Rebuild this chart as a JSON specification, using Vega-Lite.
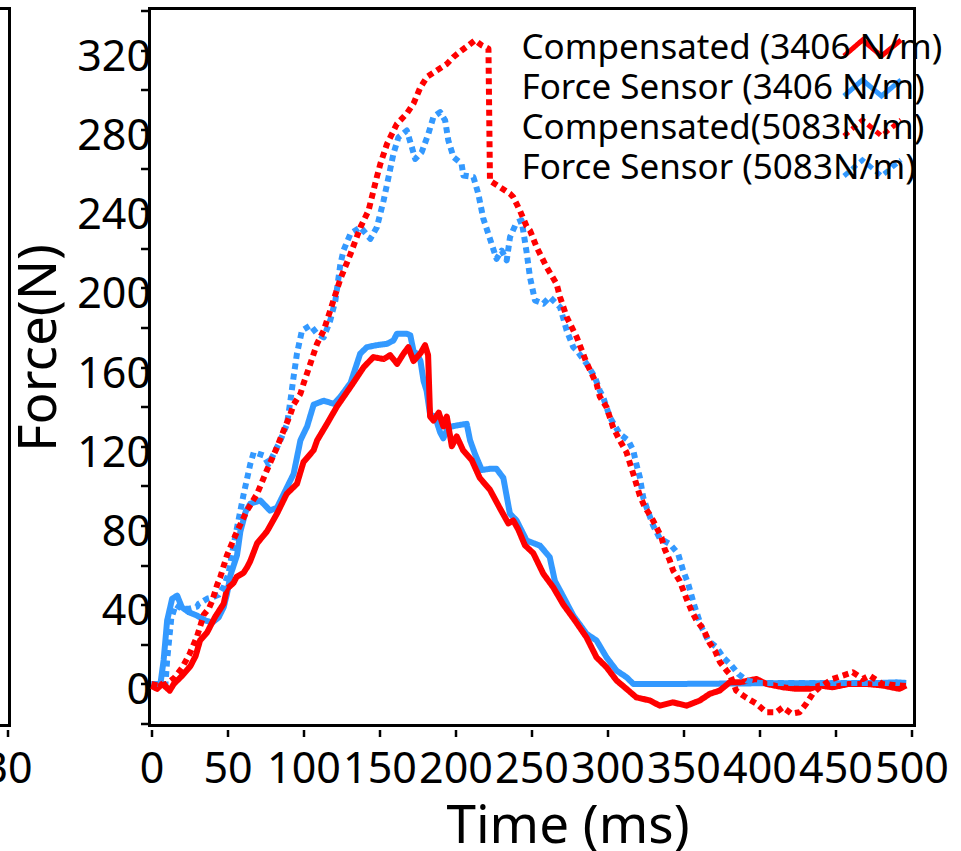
{
  "$schema": "https://vega.github.io/schema/vega-lite/v6.json",
  "autosize": {"type": "pad"},
  "padding": {"left": -32.5, "top": -5.5, "right": 0, "bottom": 0},
  "background": "white",
  "bounds": "flush",
  "spacing": 140,
  "config": {
    "font": "Noto Sans",
    "view": {"stroke": "black", "strokeWidth": 3},
    "axis": {"labelFont": "Noto Sans", "titleFont": "Noto Sans", "labelColor": "black", "titleColor": "black", "tickColor": "black", "grid": false, "domain": false, "titleFontWeight": "normal", "labelFontSize": 43, "labelBaseline": "alphabetic", "labelOverlap": false, "labelFlush": false, "tickSize": 7, "tickWidth": 2.5},
    "legend": {"title": null, "orient": "none", "legendX": 333, "legendY": 22, "labelFontSize": 35, "labelFont": "Noto Sans", "labelColor": "black", "labelLimit": 1000, "symbolType": "M34.4,0.8L36.25,-0.8L38.15,0.8L40.1,-0.8", "symbolSize": 400, "symbolStrokeWidth": 5, "rowPadding": 3}
  },
  "resolve": {"scale": {"x": "independent", "y": "independent", "color": "independent", "strokeDash": "independent"}, "legend": {"color": "independent", "strokeDash": "independent"}},
  "datasets": {
    "left": [{"t": 10, "F": 0}, {"t": 30, "F": 0}],
    "main": [
    {"s":"Force Sensor (3406 N/m)","t":0,"F":0},{"s":"Force Sensor (3406 N/m)","t":5.9,"F":0},{"s":"Force Sensor (3406 N/m)","t":8,"F":12},{"s":"Force Sensor (3406 N/m)","t":10.3,"F":32},{"s":"Force Sensor (3406 N/m)","t":13.6,"F":43},{"s":"Force Sensor (3406 N/m)","t":16.9,"F":44.6},{"s":"Force Sensor (3406 N/m)","t":20,"F":38.7},{"s":"Force Sensor (3406 N/m)","t":24.5,"F":36.2},{"s":"Force Sensor (3406 N/m)","t":30,"F":34.5},{"s":"Force Sensor (3406 N/m)","t":35.5,"F":32},{"s":"Force Sensor (3406 N/m)","t":40,"F":31},{"s":"Force Sensor (3406 N/m)","t":44.2,"F":33.6},{"s":"Force Sensor (3406 N/m)","t":47.5,"F":38.7},{"s":"Force Sensor (3406 N/m)","t":49.7,"F":45.5},{"s":"Force Sensor (3406 N/m)","t":52,"F":55},{"s":"Force Sensor (3406 N/m)","t":56.3,"F":65},{"s":"Force Sensor (3406 N/m)","t":58.5,"F":77},{"s":"Force Sensor (3406 N/m)","t":62,"F":87},{"s":"Force Sensor (3406 N/m)","t":65,"F":91},{"s":"Force Sensor (3406 N/m)","t":71.6,"F":92.6},{"s":"Force Sensor (3406 N/m)","t":78,"F":87.5},{"s":"Force Sensor (3406 N/m)","t":82.6,"F":89},{"s":"Force Sensor (3406 N/m)","t":89,"F":99},{"s":"Force Sensor (3406 N/m)","t":93.5,"F":106},{"s":"Force Sensor (3406 N/m)","t":98,"F":123},{"s":"Force Sensor (3406 N/m)","t":102.4,"F":130},{"s":"Force Sensor (3406 N/m)","t":106.7,"F":141},{"s":"Force Sensor (3406 N/m)","t":113.3,"F":143},{"s":"Force Sensor (3406 N/m)","t":120,"F":141.4},{"s":"Force Sensor (3406 N/m)","t":124,"F":144.7},{"s":"Force Sensor (3406 N/m)","t":131,"F":152},{"s":"Force Sensor (3406 N/m)","t":137.3,"F":166.7},{"s":"Force Sensor (3406 N/m)","t":141.7,"F":170},{"s":"Force Sensor (3406 N/m)","t":148,"F":171},{"s":"Force Sensor (3406 N/m)","t":154.9,"F":171.7},{"s":"Force Sensor (3406 N/m)","t":159.2,"F":173.4},{"s":"Force Sensor (3406 N/m)","t":161.5,"F":176.8},{"s":"Force Sensor (3406 N/m)","t":168,"F":176.8},{"s":"Force Sensor (3406 N/m)","t":170.3,"F":176},{"s":"Force Sensor (3406 N/m)","t":172.4,"F":168},{"s":"Force Sensor (3406 N/m)","t":174.6,"F":166.7},{"s":"Force Sensor (3406 N/m)","t":177,"F":163},{"s":"Force Sensor (3406 N/m)","t":179,"F":153},{"s":"Force Sensor (3406 N/m)","t":181,"F":148},{"s":"Force Sensor (3406 N/m)","t":183.3,"F":136},{"s":"Force Sensor (3406 N/m)","t":186.6,"F":135},{"s":"Force Sensor (3406 N/m)","t":189.9,"F":127},{"s":"Force Sensor (3406 N/m)","t":192,"F":124},{"s":"Force Sensor (3406 N/m)","t":195.3,"F":129.6},{"s":"Force Sensor (3406 N/m)","t":200.8,"F":130.5},{"s":"Force Sensor (3406 N/m)","t":207.4,"F":131.3},{"s":"Force Sensor (3406 N/m)","t":209.6,"F":123},{"s":"Force Sensor (3406 N/m)","t":212.9,"F":116},{"s":"Force Sensor (3406 N/m)","t":217.3,"F":108},{"s":"Force Sensor (3406 N/m)","t":222.7,"F":108.6},{"s":"Force Sensor (3406 N/m)","t":227,"F":108.6},{"s":"Force Sensor (3406 N/m)","t":231.5,"F":104},{"s":"Force Sensor (3406 N/m)","t":235.8,"F":86},{"s":"Force Sensor (3406 N/m)","t":240.2,"F":82.5},{"s":"Force Sensor (3406 N/m)","t":246.8,"F":72.4},{"s":"Force Sensor (3406 N/m)","t":255.6,"F":69.8},{"s":"Force Sensor (3406 N/m)","t":262,"F":64},{"s":"Force Sensor (3406 N/m)","t":265.4,"F":52},{"s":"Force Sensor (3406 N/m)","t":271,"F":44},{"s":"Force Sensor (3406 N/m)","t":277.5,"F":34.5},{"s":"Force Sensor (3406 N/m)","t":286.2,"F":25.3},{"s":"Force Sensor (3406 N/m)","t":292.8,"F":21.9},{"s":"Force Sensor (3406 N/m)","t":299.4,"F":13.4},{"s":"Force Sensor (3406 N/m)","t":306,"F":6.7},{"s":"Force Sensor (3406 N/m)","t":312.5,"F":3.4},{"s":"Force Sensor (3406 N/m)","t":317,"F":0},{"s":"Force Sensor (3406 N/m)","t":350,"F":0},{"s":"Force Sensor (3406 N/m)","t":400,"F":0.3},{"s":"Force Sensor (3406 N/m)","t":450,"F":0.3},{"s":"Force Sensor (3406 N/m)","t":480,"F":0.5},{"s":"Force Sensor (3406 N/m)","t":490,"F":0.8},{"s":"Force Sensor (3406 N/m)","t":496.5,"F":0.5},

    {"s":"Compensated (3406 N/m)","t":0,"F":-1},{"s":"Compensated (3406 N/m)","t":3.7,"F":-2.5},{"s":"Compensated (3406 N/m)","t":7,"F":0},{"s":"Compensated (3406 N/m)","t":12,"F":-3.4},{"s":"Compensated (3406 N/m)","t":14.7,"F":0},{"s":"Compensated (3406 N/m)","t":20,"F":4},{"s":"Compensated (3406 N/m)","t":25.6,"F":9},{"s":"Compensated (3406 N/m)","t":29,"F":14},{"s":"Compensated (3406 N/m)","t":32,"F":22},{"s":"Compensated (3406 N/m)","t":36.6,"F":26},{"s":"Compensated (3406 N/m)","t":42,"F":34},{"s":"Compensated (3406 N/m)","t":47.5,"F":40.5},{"s":"Compensated (3406 N/m)","t":49.7,"F":48},{"s":"Compensated (3406 N/m)","t":54,"F":51},{"s":"Compensated (3406 N/m)","t":56,"F":54},{"s":"Compensated (3406 N/m)","t":60.5,"F":56},{"s":"Compensated (3406 N/m)","t":63,"F":59},{"s":"Compensated (3406 N/m)","t":65,"F":62},{"s":"Compensated (3406 N/m)","t":69.5,"F":71},{"s":"Compensated (3406 N/m)","t":76,"F":77},{"s":"Compensated (3406 N/m)","t":82.6,"F":86},{"s":"Compensated (3406 N/m)","t":89,"F":96},{"s":"Compensated (3406 N/m)","t":95.7,"F":101},{"s":"Compensated (3406 N/m)","t":100,"F":112},{"s":"Compensated (3406 N/m)","t":106.7,"F":118},{"s":"Compensated (3406 N/m)","t":109,"F":123},{"s":"Compensated (3406 N/m)","t":115.6,"F":131.5},{"s":"Compensated (3406 N/m)","t":122,"F":140},{"s":"Compensated (3406 N/m)","t":131,"F":150},{"s":"Compensated (3406 N/m)","t":139.7,"F":160},{"s":"Compensated (3406 N/m)","t":146,"F":165},{"s":"Compensated (3406 N/m)","t":152.8,"F":164},{"s":"Compensated (3406 N/m)","t":157,"F":166},{"s":"Compensated (3406 N/m)","t":161.6,"F":161.6},{"s":"Compensated (3406 N/m)","t":165.8,"F":166.7},{"s":"Compensated (3406 N/m)","t":169,"F":170},{"s":"Compensated (3406 N/m)","t":172.4,"F":163},{"s":"Compensated (3406 N/m)","t":177,"F":167},{"s":"Compensated (3406 N/m)","t":180,"F":171},{"s":"Compensated (3406 N/m)","t":182,"F":166},{"s":"Compensated (3406 N/m)","t":183.3,"F":135},{"s":"Compensated (3406 N/m)","t":185.5,"F":133},{"s":"Compensated (3406 N/m)","t":189,"F":137},{"s":"Compensated (3406 N/m)","t":192,"F":130},{"s":"Compensated (3406 N/m)","t":194.3,"F":135},{"s":"Compensated (3406 N/m)","t":197.6,"F":120},{"s":"Compensated (3406 N/m)","t":200.8,"F":125},{"s":"Compensated (3406 N/m)","t":205,"F":118},{"s":"Compensated (3406 N/m)","t":210.7,"F":113},{"s":"Compensated (3406 N/m)","t":216,"F":104},{"s":"Compensated (3406 N/m)","t":222.7,"F":98},{"s":"Compensated (3406 N/m)","t":229,"F":89},{"s":"Compensated (3406 N/m)","t":234.8,"F":81},{"s":"Compensated (3406 N/m)","t":238,"F":82.5},{"s":"Compensated (3406 N/m)","t":241.3,"F":78},{"s":"Compensated (3406 N/m)","t":245.7,"F":70},{"s":"Compensated (3406 N/m)","t":251.2,"F":66},{"s":"Compensated (3406 N/m)","t":257.8,"F":55.6},{"s":"Compensated (3406 N/m)","t":264.3,"F":48.8},{"s":"Compensated (3406 N/m)","t":271,"F":40},{"s":"Compensated (3406 N/m)","t":278.6,"F":32},{"s":"Compensated (3406 N/m)","t":286.2,"F":23.5},{"s":"Compensated (3406 N/m)","t":292.8,"F":13.4},{"s":"Compensated (3406 N/m)","t":299.4,"F":8.4},{"s":"Compensated (3406 N/m)","t":306,"F":1.7},{"s":"Compensated (3406 N/m)","t":312.5,"F":-2.5},{"s":"Compensated (3406 N/m)","t":319,"F":-6.8},{"s":"Compensated (3406 N/m)","t":328,"F":-8.4},{"s":"Compensated (3406 N/m)","t":334.4,"F":-11},{"s":"Compensated (3406 N/m)","t":343,"F":-9.3},{"s":"Compensated (3406 N/m)","t":352,"F":-11},{"s":"Compensated (3406 N/m)","t":360.7,"F":-8.4},{"s":"Compensated (3406 N/m)","t":367.3,"F":-5},{"s":"Compensated (3406 N/m)","t":373.8,"F":-3.4},{"s":"Compensated (3406 N/m)","t":380.4,"F":0.8},{"s":"Compensated (3406 N/m)","t":387,"F":0.8},{"s":"Compensated (3406 N/m)","t":398,"F":2.5},{"s":"Compensated (3406 N/m)","t":404.5,"F":0},{"s":"Compensated (3406 N/m)","t":415.4,"F":-1.7},{"s":"Compensated (3406 N/m)","t":424,"F":-2.5},{"s":"Compensated (3406 N/m)","t":433,"F":-2.5},{"s":"Compensated (3406 N/m)","t":439.5,"F":-0.8},{"s":"Compensated (3406 N/m)","t":448,"F":-1.7},{"s":"Compensated (3406 N/m)","t":459,"F":0},{"s":"Compensated (3406 N/m)","t":470,"F":0},{"s":"Compensated (3406 N/m)","t":481,"F":-0.8},{"s":"Compensated (3406 N/m)","t":492,"F":-2.5},{"s":"Compensated (3406 N/m)","t":496.5,"F":-0.8},

    {"s":"Force Sensor (5083N/m)","t":0,"F":0},{"s":"Force Sensor (5083N/m)","t":9.2,"F":0},{"s":"Force Sensor (5083N/m)","t":10.3,"F":12},{"s":"Force Sensor (5083N/m)","t":13,"F":33},{"s":"Force Sensor (5083N/m)","t":16,"F":40},{"s":"Force Sensor (5083N/m)","t":20,"F":38},{"s":"Force Sensor (5083N/m)","t":25,"F":38},{"s":"Force Sensor (5083N/m)","t":30,"F":39},{"s":"Force Sensor (5083N/m)","t":31,"F":40.4},{"s":"Force Sensor (5083N/m)","t":36.6,"F":43},{"s":"Force Sensor (5083N/m)","t":40,"F":43.7},{"s":"Force Sensor (5083N/m)","t":44.2,"F":45},{"s":"Force Sensor (5083N/m)","t":47.5,"F":49},{"s":"Force Sensor (5083N/m)","t":50.8,"F":56},{"s":"Force Sensor (5083N/m)","t":54,"F":70},{"s":"Force Sensor (5083N/m)","t":58.5,"F":87.5},{"s":"Force Sensor (5083N/m)","t":60.7,"F":96},{"s":"Force Sensor (5083N/m)","t":65,"F":111},{"s":"Force Sensor (5083N/m)","t":67.3,"F":117},{"s":"Force Sensor (5083N/m)","t":73.8,"F":115.3},{"s":"Force Sensor (5083N/m)","t":77,"F":111},{"s":"Force Sensor (5083N/m)","t":80.4,"F":116},{"s":"Force Sensor (5083N/m)","t":84.8,"F":123},{"s":"Force Sensor (5083N/m)","t":89.2,"F":131.3},{"s":"Force Sensor (5083N/m)","t":91.4,"F":143},{"s":"Force Sensor (5083N/m)","t":93.5,"F":155},{"s":"Force Sensor (5083N/m)","t":95.7,"F":166.7},{"s":"Force Sensor (5083N/m)","t":99,"F":178.4},{"s":"Force Sensor (5083N/m)","t":104.5,"F":181},{"s":"Force Sensor (5083N/m)","t":108.9,"F":176.8},{"s":"Force Sensor (5083N/m)","t":113.3,"F":175},{"s":"Force Sensor (5083N/m)","t":117.6,"F":183.5},{"s":"Force Sensor (5083N/m)","t":121,"F":193.6},{"s":"Force Sensor (5083N/m)","t":124.3,"F":212},{"s":"Force Sensor (5083N/m)","t":126.4,"F":219},{"s":"Force Sensor (5083N/m)","t":131,"F":227.4},{"s":"Force Sensor (5083N/m)","t":137.5,"F":230.6},{"s":"Force Sensor (5083N/m)","t":144,"F":224.7},{"s":"Force Sensor (5083N/m)","t":148.3,"F":230.6},{"s":"Force Sensor (5083N/m)","t":152.7,"F":244},{"s":"Force Sensor (5083N/m)","t":156,"F":256},{"s":"Force Sensor (5083N/m)","t":159.2,"F":267.7},{"s":"Force Sensor (5083N/m)","t":162.5,"F":276},{"s":"Force Sensor (5083N/m)","t":168,"F":279.4},{"s":"Force Sensor (5083N/m)","t":171.3,"F":271},{"s":"Force Sensor (5083N/m)","t":173.5,"F":265},{"s":"Force Sensor (5083N/m)","t":177.8,"F":268.5},{"s":"Force Sensor (5083N/m)","t":182.2,"F":277.8},{"s":"Force Sensor (5083N/m)","t":185.5,"F":286.2},{"s":"Force Sensor (5083N/m)","t":189.9,"F":288.7},{"s":"Force Sensor (5083N/m)","t":193.2,"F":284.5},{"s":"Force Sensor (5083N/m)","t":195.3,"F":274.4},{"s":"Force Sensor (5083N/m)","t":198.7,"F":266},{"s":"Force Sensor (5083N/m)","t":204,"F":262.6},{"s":"Force Sensor (5083N/m)","t":205.2,"F":256.7},{"s":"Force Sensor (5083N/m)","t":211.8,"F":255.9},{"s":"Force Sensor (5083N/m)","t":215,"F":247.5},{"s":"Force Sensor (5083N/m)","t":218.3,"F":235},{"s":"Force Sensor (5083N/m)","t":222.7,"F":224.7},{"s":"Force Sensor (5083N/m)","t":227,"F":214.6},{"s":"Force Sensor (5083N/m)","t":230.4,"F":218.8},{"s":"Force Sensor (5083N/m)","t":233.7,"F":213.8},{"s":"Force Sensor (5083N/m)","t":235.9,"F":225.6},{"s":"Force Sensor (5083N/m)","t":240.2,"F":233},{"s":"Force Sensor (5083N/m)","t":243.5,"F":234},{"s":"Force Sensor (5083N/m)","t":246.8,"F":218},{"s":"Force Sensor (5083N/m)","t":249,"F":205.4},{"s":"Force Sensor (5083N/m)","t":252.3,"F":193.6},{"s":"Force Sensor (5083N/m)","t":257.8,"F":192},{"s":"Force Sensor (5083N/m)","t":262,"F":195.3},{"s":"Force Sensor (5083N/m)","t":268.8,"F":190.2},{"s":"Force Sensor (5083N/m)","t":273.2,"F":178.4},{"s":"Force Sensor (5083N/m)","t":277.5,"F":170},{"s":"Force Sensor (5083N/m)","t":279.8,"F":168.3},{"s":"Force Sensor (5083N/m)","t":286.3,"F":161.6},{"s":"Force Sensor (5083N/m)","t":291.7,"F":154.9},{"s":"Force Sensor (5083N/m)","t":295,"F":148},{"s":"Force Sensor (5083N/m)","t":297.2,"F":144.7},{"s":"Force Sensor (5083N/m)","t":301.6,"F":134.6},{"s":"Force Sensor (5083N/m)","t":308,"F":126.3},{"s":"Force Sensor (5083N/m)","t":313.6,"F":123},{"s":"Force Sensor (5083N/m)","t":317,"F":117.8},{"s":"Force Sensor (5083N/m)","t":319,"F":111},{"s":"Force Sensor (5083N/m)","t":321.3,"F":104.3},{"s":"Force Sensor (5083N/m)","t":323.5,"F":94.2},{"s":"Force Sensor (5083N/m)","t":325.7,"F":89.2},{"s":"Force Sensor (5083N/m)","t":330,"F":80},{"s":"Force Sensor (5083N/m)","t":334.4,"F":73.5},{"s":"Force Sensor (5083N/m)","t":341,"F":70.7},{"s":"Force Sensor (5083N/m)","t":346.5,"F":65.7},{"s":"Force Sensor (5083N/m)","t":349.8,"F":57.2},{"s":"Force Sensor (5083N/m)","t":353.1,"F":50.5},{"s":"Force Sensor (5083N/m)","t":357.5,"F":38.7},{"s":"Force Sensor (5083N/m)","t":361.9,"F":28.6},{"s":"Force Sensor (5083N/m)","t":366.3,"F":21.9},{"s":"Force Sensor (5083N/m)","t":371.8,"F":18.5},{"s":"Force Sensor (5083N/m)","t":376.2,"F":13.4},{"s":"Force Sensor (5083N/m)","t":381.7,"F":9.2},{"s":"Force Sensor (5083N/m)","t":386.1,"F":5},{"s":"Force Sensor (5083N/m)","t":391.6,"F":1.7},{"s":"Force Sensor (5083N/m)","t":400,"F":0.5},{"s":"Force Sensor (5083N/m)","t":450,"F":0.5},{"s":"Force Sensor (5083N/m)","t":496.5,"F":0.5},

    {"s":"Compensated(5083N/m)","t":0,"F":0},{"s":"Compensated(5083N/m)","t":5,"F":-1},{"s":"Compensated(5083N/m)","t":10,"F":0},{"s":"Compensated(5083N/m)","t":15,"F":3},{"s":"Compensated(5083N/m)","t":20,"F":8},{"s":"Compensated(5083N/m)","t":25,"F":15},{"s":"Compensated(5083N/m)","t":30,"F":24},{"s":"Compensated(5083N/m)","t":34.4,"F":35},{"s":"Compensated(5083N/m)","t":37.7,"F":38},{"s":"Compensated(5083N/m)","t":40,"F":42},{"s":"Compensated(5083N/m)","t":43.2,"F":50},{"s":"Compensated(5083N/m)","t":45.3,"F":54},{"s":"Compensated(5083N/m)","t":49.7,"F":65},{"s":"Compensated(5083N/m)","t":56.3,"F":77},{"s":"Compensated(5083N/m)","t":62.8,"F":87.5},{"s":"Compensated(5083N/m)","t":69.5,"F":96},{"s":"Compensated(5083N/m)","t":76,"F":108},{"s":"Compensated(5083N/m)","t":82.6,"F":119.5},{"s":"Compensated(5083N/m)","t":87,"F":128},{"s":"Compensated(5083N/m)","t":91.3,"F":136},{"s":"Compensated(5083N/m)","t":93.5,"F":141},{"s":"Compensated(5083N/m)","t":98,"F":146.5},{"s":"Compensated(5083N/m)","t":100,"F":151.5},{"s":"Compensated(5083N/m)","t":104.5,"F":161.6},{"s":"Compensated(5083N/m)","t":108.9,"F":171.7},{"s":"Compensated(5083N/m)","t":113.3,"F":178.4},{"s":"Compensated(5083N/m)","t":117.6,"F":188.5},{"s":"Compensated(5083N/m)","t":124.3,"F":204.5},{"s":"Compensated(5083N/m)","t":130.9,"F":217},{"s":"Compensated(5083N/m)","t":137.5,"F":230.6},{"s":"Compensated(5083N/m)","t":142.8,"F":239},{"s":"Compensated(5083N/m)","t":148.3,"F":256},{"s":"Compensated(5083N/m)","t":150.6,"F":262.6},{"s":"Compensated(5083N/m)","t":155,"F":272.7},{"s":"Compensated(5083N/m)","t":161.5,"F":282.8},{"s":"Compensated(5083N/m)","t":168,"F":288},{"s":"Compensated(5083N/m)","t":172.4,"F":293},{"s":"Compensated(5083N/m)","t":176.8,"F":301},{"s":"Compensated(5083N/m)","t":181.2,"F":306.4},{"s":"Compensated(5083N/m)","t":187.7,"F":309.7},{"s":"Compensated(5083N/m)","t":194.3,"F":313},{"s":"Compensated(5083N/m)","t":198.7,"F":316.5},{"s":"Compensated(5083N/m)","t":204,"F":319.8},{"s":"Compensated(5083N/m)","t":208.5,"F":322.4},{"s":"Compensated(5083N/m)","t":212.9,"F":325},{"s":"Compensated(5083N/m)","t":217.3,"F":322.4},{"s":"Compensated(5083N/m)","t":221.7,"F":320.7},{"s":"Compensated(5083N/m)","t":222.7,"F":254},{"s":"Compensated(5083N/m)","t":229.3,"F":250.8},{"s":"Compensated(5083N/m)","t":235.9,"F":247.5},{"s":"Compensated(5083N/m)","t":238,"F":245.8},{"s":"Compensated(5083N/m)","t":242.4,"F":239},{"s":"Compensated(5083N/m)","t":246.8,"F":231},{"s":"Compensated(5083N/m)","t":249,"F":229},{"s":"Compensated(5083N/m)","t":253.4,"F":220.5},{"s":"Compensated(5083N/m)","t":260,"F":210.4},{"s":"Compensated(5083N/m)","t":266.5,"F":202},{"s":"Compensated(5083N/m)","t":268.8,"F":195.3},{"s":"Compensated(5083N/m)","t":273.2,"F":185.2},{"s":"Compensated(5083N/m)","t":279.8,"F":175},{"s":"Compensated(5083N/m)","t":286.3,"F":162},{"s":"Compensated(5083N/m)","t":292.8,"F":151.5},{"s":"Compensated(5083N/m)","t":295,"F":145},{"s":"Compensated(5083N/m)","t":299.4,"F":139.7},{"s":"Compensated(5083N/m)","t":303.7,"F":129.6},{"s":"Compensated(5083N/m)","t":308,"F":123},{"s":"Compensated(5083N/m)","t":312.5,"F":117},{"s":"Compensated(5083N/m)","t":317,"F":106},{"s":"Compensated(5083N/m)","t":321.3,"F":95},{"s":"Compensated(5083N/m)","t":324.6,"F":89.2},{"s":"Compensated(5083N/m)","t":329,"F":84},{"s":"Compensated(5083N/m)","t":332.3,"F":79},{"s":"Compensated(5083N/m)","t":335.5,"F":74},{"s":"Compensated(5083N/m)","t":337.7,"F":68},{"s":"Compensated(5083N/m)","t":341,"F":62.3},{"s":"Compensated(5083N/m)","t":343.2,"F":57.2},{"s":"Compensated(5083N/m)","t":347.5,"F":52},{"s":"Compensated(5083N/m)","t":352,"F":43},{"s":"Compensated(5083N/m)","t":355.3,"F":37},{"s":"Compensated(5083N/m)","t":358.6,"F":32},{"s":"Compensated(5083N/m)","t":363,"F":27.8},{"s":"Compensated(5083N/m)","t":367.3,"F":20.5},{"s":"Compensated(5083N/m)","t":370.7,"F":16.8},{"s":"Compensated(5083N/m)","t":374,"F":11},{"s":"Compensated(5083N/m)","t":378.4,"F":6.7},{"s":"Compensated(5083N/m)","t":380.4,"F":5},{"s":"Compensated(5083N/m)","t":384.7,"F":-3.4},{"s":"Compensated(5083N/m)","t":391,"F":-6.8},{"s":"Compensated(5083N/m)","t":398,"F":-10},{"s":"Compensated(5083N/m)","t":404.5,"F":-14.3},{"s":"Compensated(5083N/m)","t":411,"F":-14.3},{"s":"Compensated(5083N/m)","t":415.4,"F":-11.8},{"s":"Compensated(5083N/m)","t":421,"F":-15},{"s":"Compensated(5083N/m)","t":426.4,"F":-14.3},{"s":"Compensated(5083N/m)","t":430.8,"F":-10},{"s":"Compensated(5083N/m)","t":435,"F":-5},{"s":"Compensated(5083N/m)","t":439.5,"F":-1.7},{"s":"Compensated(5083N/m)","t":448,"F":2.5},{"s":"Compensated(5083N/m)","t":454.8,"F":4.2},{"s":"Compensated(5083N/m)","t":461.4,"F":5.9},{"s":"Compensated(5083N/m)","t":468,"F":2.5},{"s":"Compensated(5083N/m)","t":472.4,"F":4.2},{"s":"Compensated(5083N/m)","t":481,"F":0},{"s":"Compensated(5083N/m)","t":492,"F":-0.8},{"s":"Compensated(5083N/m)","t":496.5,"F":-1}
    ]
  },
  "hconcat": [
    {
      "width": 40,
      "height": 717,
      "data": {"name": "left"},
      "mark": {"type": "point", "opacity": 0},
      "encoding": {
        "x": {"field": "t", "type": "quantitative", "scale": {"domain": [5, 31.3], "nice": false, "zero": false},
          "axis": {"title": null, "values": [30], "labelPadding": 46, "offset": 4}},
        "y": {"field": "F", "type": "quantitative", "axis": null}
      }
    },
    {
      "width": 765,
      "height": 717,
      "data": {"name": "main"},
      "mark": {"type": "line", "strokeWidth": 6, "strokeCap": "butt", "strokeJoin": "round"},
      "encoding": {
        "x": {"field": "t", "type": "quantitative",
          "scale": {"domain": [-1.3, 502], "nice": false, "zero": false},
          "axis": {"title": "Time (ms)", "values": [0,50,100,150,200,250,300,350,400,450,500], "labelPadding": 46, "offset": 4, "titleFontSize": 53, "titleX": 418, "titleY": 113, "titleBaseline": "alphabetic"}},
        "y": {"field": "F", "type": "quantitative",
          "scale": {"domain": [-21, 341], "nice": false, "zero": false},
          "axis": {"title": "Force(N)", "values": [-20,0,20,40,60,80,100,120,140,160,180,200,220,240,260,280,300,320,340], "labelExpr": "datum.value % 40 === 0 ? datum.label : ''", "labelOffset": 20, "labelPadding": -10, "offset": 2, "titleFontSize": 53, "titleX": -92, "titleY": 339, "titleBaseline": "alphabetic", "titleAngle": -90}},
        "color": {"field": "s", "type": "nominal",
          "scale": {"domain": ["Compensated (3406 N/m)", "Force Sensor (3406 N/m)", "Compensated(5083N/m)", "Force Sensor (5083N/m)"], "range": ["#ff0000", "#3399ff", "#ff0000", "#3399ff"]}},
        "strokeDash": {"field": "s", "type": "nominal",
          "scale": {"domain": ["Compensated (3406 N/m)", "Force Sensor (3406 N/m)", "Compensated(5083N/m)", "Force Sensor (5083N/m)"], "range": [[1,0], [1,0], [6,4.5], [6,4.5]]}},
        "order": {"field": "t", "type": "quantitative"}
      }
    }
  ]
}
